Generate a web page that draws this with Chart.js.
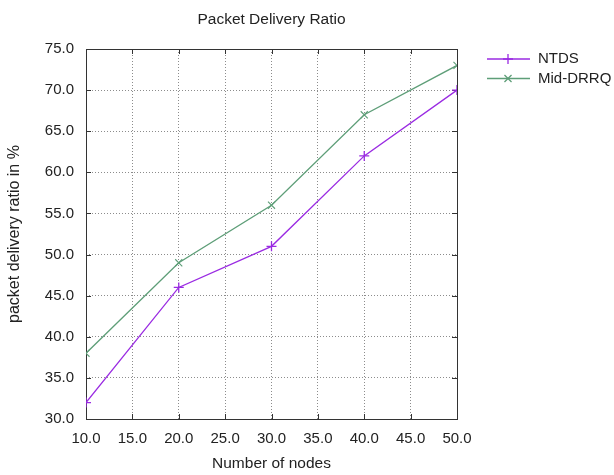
<!DOCTYPE html>
<html>
<head>
<meta charset="utf-8">
<script src="https://cdn.jsdelivr.net/npm/chart.js@4/dist/chart.umd.min.js"></script>
<style>
  html, body { margin: 0; padding: 0; background: #fff; }
  #chart { display: block; }
</style>
</head>
<body>
<canvas id="chart" width="614" height="475"></canvas>
<script>
// datos
const nodos = [10, 20, 30, 40, 50];
const ntds = [32, 46, 51, 62, 70];
const midDrrq = [38, 49, 56, 67, 73];

const FUENTE = "'Liberation Sans', Arial, sans-serif";

// marco, marcas hacia dentro, titulo y leyenda
const extras = {
  id: 'extras',
  beforeDatasetsDraw(chart) {
    const { ctx, chartArea: a, scales } = chart;
    ctx.save();
    ctx.strokeStyle = '#333';
    ctx.lineWidth = 1;
    ctx.beginPath();
    scales.x.ticks.forEach(t => {
      const px = Math.round(scales.x.getPixelForValue(t.value)) + 0.5;
      ctx.moveTo(px, a.bottom); ctx.lineTo(px, a.bottom - 5);
      ctx.moveTo(px, a.top); ctx.lineTo(px, a.top + 5);
    });
    scales.y.ticks.forEach(t => {
      const py = Math.round(scales.y.getPixelForValue(t.value)) + 0.5;
      ctx.moveTo(a.left, py); ctx.lineTo(a.left + 5, py);
      ctx.moveTo(a.right, py); ctx.lineTo(a.right - 5, py);
    });
    ctx.stroke();
    ctx.strokeRect(Math.round(a.left) + 0.5, Math.round(a.top) + 0.5,
      Math.round(a.right - a.left), Math.round(a.bottom - a.top));
    ctx.restore();
  },
  afterDraw(chart) {
    const { ctx, chartArea: a } = chart;
    ctx.save();
    ctx.fillStyle = '#222';
    ctx.font = '15.5px ' + FUENTE;
    ctx.textAlign = 'center';
    ctx.textBaseline = 'middle';
    ctx.fillText('Packet Delivery Ratio', (a.left + a.right) / 2, 20);

    // leyenda
    ctx.font = '15px ' + FUENTE;
    ctx.textAlign = 'left';
    chart.data.datasets.forEach((ds, i) => {
      const y = 59 + i * 19.5;
      ctx.strokeStyle = ds.borderColor;
      ctx.lineWidth = 1.3;
      ctx.beginPath();
      ctx.moveTo(487, y); ctx.lineTo(530, y);
      ctx.stroke();
      Chart.helpers.drawPoint(ctx, {
        pointStyle: ds.pointStyle, radius: 5, rotation: 0, borderWidth: 1
      }, 508, y);
      ctx.fillStyle = '#222';
      ctx.fillText(ds.label, 538, y);
    });
    ctx.restore();
  }
};

new Chart(document.getElementById('chart'), {
  type: 'line',
  data: {
    datasets: [{
      label: 'NTDS',
      data: nodos.map((n, i) => ({ x: n, y: ntds[i] })),
      borderColor: '#9a2be2',
      backgroundColor: '#9a2be2',
      borderWidth: 1.3,
      pointStyle: 'cross',
      pointRadius: 5,
      pointBorderWidth: 1.3,
      tension: 0,
    }, {
      label: 'Mid-DRRQ',
      data: nodos.map((n, i) => ({ x: n, y: midDrrq[i] })),
      borderColor: '#5e9e78',
      backgroundColor: '#5e9e78',
      borderWidth: 1.3,
      pointStyle: 'crossRot',
      pointRadius: 5,
      pointBorderWidth: 1.1,
      tension: 0,
    }],
  },
  options: {
    responsive: false,
    animation: false,
    layout: { padding: { left: 0, right: 157, top: 49, bottom: 0 } },
    plugins: {
      legend: { display: false },
      title: { display: false },
      tooltip: { enabled: false },
    },
    scales: {
      x: {
        type: 'linear',
        min: 10,
        max: 50,
        afterFit: (s) => { s.height = 56; },
        ticks: {
          stepSize: 5,
          color: '#222',
          padding: 11,
          maxRotation: 0,
          font: { family: FUENTE, size: 15 },
          callback: (v) => v.toFixed(1),
        },
        grid: {
          color: '#8c8c8c',
          drawTicks: false,
        },
        border: { display: false, dash: [1, 2] },
        title: {
          display: true,
          text: 'Number of nodes',
          color: '#222',
          padding: { top: 0, bottom: 2 },
          font: { family: FUENTE, size: 15.5 },
        },
      },
      y: {
        min: 30,
        max: 75,
        afterFit: (s) => { s.width = 86; },
        ticks: {
          stepSize: 5,
          color: '#222',
          padding: 12,
          font: { family: FUENTE, size: 15 },
          callback: (v) => v.toFixed(1),
        },
        grid: {
          color: '#8c8c8c',
          drawTicks: false,
        },
        border: { display: false, dash: [1, 2] },
        title: {
          display: true,
          text: 'packet delivery ratio in %',
          color: '#222',
          padding: { top: 5, bottom: 0 },
          font: { family: FUENTE, size: 16 },
        },
      },
    },
  },
  plugins: [extras],
});
</script>
</body>
</html>
